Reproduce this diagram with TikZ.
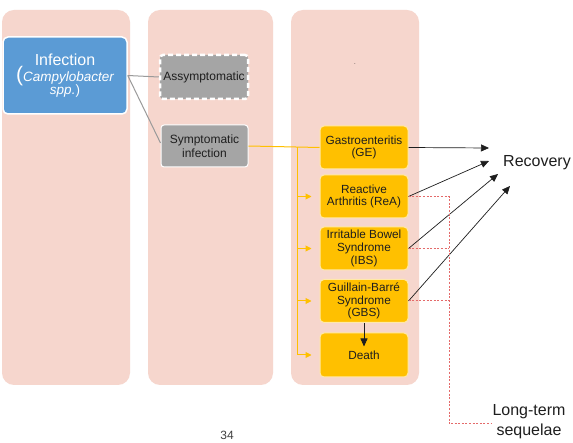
\documentclass[tikz,border=0pt]{standalone}
\usepackage{fontspec}
\setmainfont{Liberation Sans}
\usetikzlibrary{arrows.meta,calc}
\definecolor{pinkbg}{HTML}{F6D6CD}
\definecolor{blueb}{HTML}{5B9BD5}
\definecolor{grayb}{HTML}{A5A5A5}
\definecolor{grayl}{HTML}{9A9A9A}
\definecolor{yel}{HTML}{FFC000}
\definecolor{yelb}{HTML}{FFE9A8}
\definecolor{redd}{HTML}{E46A6A}
\definecolor{txt}{HTML}{1E1E1E}
\begin{document}
\begin{tikzpicture}[x=1pt,y=-1pt,
  col/.style={fill=pinkbg,rounded corners=12pt},
  graybox/.style={fill=grayb,draw=white,line width=1pt,rounded corners=3pt,inner sep=0pt,
    minimum width=87pt,minimum height=43pt,align=center,text=txt,
    font=\fontsize{12}{14}\selectfont},
  yelbox/.style={fill=yel,draw=yelb,line width=1pt,rounded corners=4pt,inner sep=0pt,
    minimum width=88pt,minimum height=43pt,align=center,text=txt,
    font=\fontsize{11.8}{12.6}\selectfont},
  gline/.style={draw=grayl,line width=1pt},
  yline/.style={draw=yel,line width=1pt},
  yarr/.style={draw=yel,line width=1pt,-{Triangle[length=6pt,width=6pt]}},
  barr/.style={draw=txt,line width=0.7pt,-{Triangle[length=8pt,width=7pt]}},
  rline/.style={draw=redd,line width=1pt,dash pattern=on 2pt off 1.6pt},
  bigtext/.style={text=txt,font=\fontsize{16}{20}\selectfont,align=center,inner sep=0pt}]
\useasboundingbox (0,0) rectangle (573,443);
\fill[white] (0,0) rectangle (573,443);
% columns
\path[col] (2,10) rectangle (130,385);
\path[col] (148,10) rectangle (273,385);
\path[col] (291,10) rectangle (419,385);
% tiny mark
\node[text=txt,font=\fontsize{6}{6}\selectfont,inner sep=0pt] (dot) at (355,64) {.};
% infection
\node[fill=blueb,draw=white,line width=1.5pt,rounded corners=5pt,inner sep=0pt,
  minimum width=124pt,minimum height=77pt,align=center,text=white] (inf) at (65,75.5)
  {\fontsize{16}{18}\selectfont Infection\\[-1pt]
   {\fontsize{21}{18}\selectfont(}{\fontsize{13.5}{18}\selectfont\itshape Campylobacter}\\[-2pt]
   {\fontsize{13.5}{16}\selectfont\itshape spp.\upshape)}};
% gray boxes
\node[graybox,draw=white,line width=2.5pt,dash pattern=on 5pt off 3pt,minimum width=88pt,minimum height=44pt] (asy) at (204,77) {Assymptomatic};
\node[graybox,minimum height=42pt] (sym) at (204.5,146) {Symptomatic\\infection};
% yellow boxes
\node[yelbox] (ge) at (364,147.5) {Gastroenteritis\\(GE)};
\node[yelbox] (rea) at (364,196.5) {Reactive\\Arthritis (ReA)};
\node[yelbox] (ibs) at (364,248.5) {Irritable Bowel\\Syndrome\\(IBS)};
\node[yelbox] (gbs) at (364,301) {Guillain-Barré\\Syndrome\\(GBS)};
\node[yelbox,minimum height=44pt] (death) at (364,355) {Death};
% text nodes
\node[bigtext,anchor=west] (rec) at (503,163) {Recovery};
\node[bigtext] (lt) at (529,422) {Long-term\\sequelae};
\node[text=txt!85,font=\fontsize{12}{12}\selectfont,inner sep=0pt,anchor=south] (pg) at (227,440) {34};
% gray connectors
\draw[gline] (inf.east) -- (asy.west);
\draw[gline] (inf.east) -- ([yshift=3pt]sym.west);
% yellow connectors
\coordinate (j) at (297,147.5);
\draw[yline] (sym.east) -- (ge.west);
\draw[yline] (j) -- (j |- death.west);
\draw[yarr] (j |- rea.west) -- ([xshift=-8pt]rea.west);
\draw[yarr] (j |- ibs.west) -- ([xshift=-8pt]ibs.west);
\draw[yarr] (j |- gbs.west) -- ([xshift=-8pt]gbs.west);
\draw[yarr] (j |- death.west) -- ([xshift=-8pt]death.west);
% recovery arrows
\coordinate (r1) at (489,148);
\coordinate (r2) at (489,161);
\coordinate (r3) at (498,174);
\coordinate (r4) at (510,186);
\draw[barr] (ge.east) -- (r1);
\draw[barr] (rea.east) -- (r2);
\draw[barr] (ibs.east) -- (r3);
\draw[barr] (gbs.east) -- (r4);
\draw[barr] (gbs.south) -- ([yshift=-14pt]death.north);
% long-term sequelae dotted
\coordinate (v) at (449,196.5);
\draw[rline] (rea.east) -- (v) -- ([yshift=-2pt]v |- lt.west) -- ([yshift=-2pt]lt.west);
\draw[rline] (ibs.east) -- (v |- ibs.east);
\draw[rline] (gbs.east) -- (v |- gbs.east);
\end{tikzpicture}
\end{document}
